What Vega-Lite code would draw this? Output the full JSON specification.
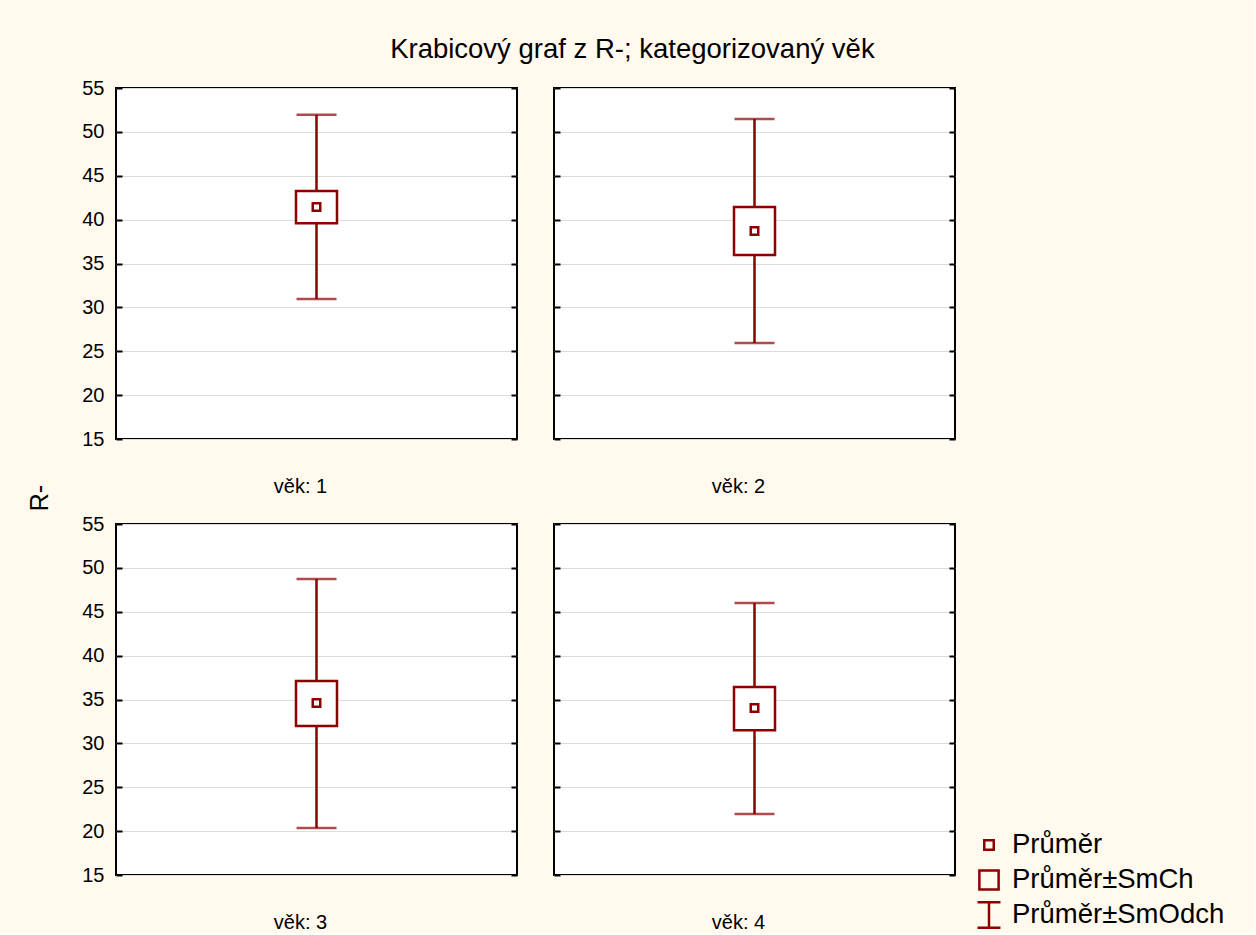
{
  "$schema": "https://vega.github.io/schema/vega-lite/v6.json",
  "background": "#FFF9EE",
  "padding": {"left": 27, "top": 35, "right": 30, "bottom": 0},
  "title": {"text": "Krabicový graf z R-; kategorizovaný věk", "fontSize": 27.5, "font": "Liberation Sans", "fontWeight": "normal", "color": "black", "anchor": "middle", "offset": 14, "dx": 6},
  "data": {"values": [
    {"vek": "věk: 1", "mean": 41.45, "se_lo": 39.6, "se_hi": 43.25, "sd_lo": 30.95, "sd_hi": 51.95},
    {"vek": "věk: 2", "mean": 38.7, "se_lo": 35.97, "se_hi": 41.44, "sd_lo": 25.95, "sd_hi": 51.47},
    {"vek": "věk: 3", "mean": 34.6, "se_lo": 31.98, "se_hi": 37.11, "sd_lo": 20.36, "sd_hi": 48.73},
    {"vek": "věk: 4", "mean": 34.03, "se_lo": 31.5, "se_hi": 36.42, "sd_lo": 21.95, "sd_hi": 46.0}
  ]},
  "hconcat": [
    {
      "title": {"text": "R-", "orient": "left", "fontSize": 25, "font": "Liberation Sans", "fontWeight": "normal", "color": "black", "anchor": "middle", "offset": 28, "dx": 7},
      "spacing": 16,
      "vconcat": [
        {
          "spacing": 33,
          "hconcat": [
            {
              "width": 401, "height": 351,
              "transform": [{"filter": "datum.vek === 'věk: 1'"}],
              "resolve": {"axis": {"y": "independent"}},
              "encoding": {"x": {"field": "vek", "type": "nominal", "axis": {"orient": "bottom", "ticks": false, "domain": false, "labelPadding": 37, "labelOffset": -16, "labelFontSize": 20, "labelFont": "Liberation Sans", "labelColor": "black", "labelAngle": 0, "title": null}}},
              "layer": [
                {"mark": {"type": "rule", "color": "#8B0000", "strokeWidth": 2.5},
                 "encoding": {
                   "y": {"field": "sd_lo", "type": "quantitative", "scale": {"domain": [15, 55], "nice": false, "zero": false}, "axis": {"orient": "left", "values": [15, 20, 25, 30, 35, 40, 45, 50, 55], "grid": true, "gridColor": "#DCDCDC", "gridWidth": 1, "domain": false, "tickSize": -6, "tickWidth": 2, "tickColor": "black", "labelFont": "Liberation Sans", "labelFontSize": 20, "labelColor": "black", "labelPadding": 18, "title": null}},
                   "y2": {"field": "sd_hi"}}},
                {"mark": {"type": "tick", "orient": "horizontal", "size": 40, "thickness": 2.5, "color": "#8B0000"},
                 "encoding": {"y": {"field": "sd_lo", "type": "quantitative", "scale": {"domain": [15, 55], "nice": false, "zero": false}, "axis": null}}},
                {"mark": {"type": "tick", "orient": "horizontal", "size": 40, "thickness": 2.5, "color": "#8B0000"},
                 "encoding": {"y": {"field": "sd_hi", "type": "quantitative", "scale": {"domain": [15, 55], "nice": false, "zero": false}, "axis": null}}},
                {"mark": {"type": "bar", "width": 41, "fill": "white", "stroke": "#8B0000", "strokeWidth": 2.5},
                 "encoding": {"y": {"field": "se_lo", "type": "quantitative", "scale": {"domain": [15, 55], "nice": false, "zero": false}, "axis": null}, "y2": {"field": "se_hi"}}},
                {"mark": {"type": "point", "shape": "square", "size": 56, "filled": true, "fill": "white", "stroke": "#8B0000", "strokeWidth": 2.5, "opacity": 1},
                 "encoding": {"y": {"field": "mean", "type": "quantitative", "scale": {"domain": [15, 55], "nice": false, "zero": false}, "axis": null}}},
                {"mark": {"type": "rule", "opacity": 0},
                 "encoding": {"y": {"field": "mean", "type": "quantitative", "scale": {"domain": [15, 55], "nice": false, "zero": false}, "axis": {"orient": "right", "values": [15, 20, 25, 30, 35, 40, 45, 50, 55], "grid": false, "domain": false, "labels": false, "tickSize": -6, "tickWidth": 2, "tickColor": "black", "title": null}}}}
              ]
            },
            {
              "width": 401, "height": 351,
              "transform": [{"filter": "datum.vek === 'věk: 2'"}],
              "resolve": {"axis": {"y": "independent"}},
              "encoding": {"x": {"field": "vek", "type": "nominal", "axis": {"orient": "bottom", "ticks": false, "domain": false, "labelPadding": 37, "labelOffset": -16, "labelFontSize": 20, "labelFont": "Liberation Sans", "labelColor": "black", "labelAngle": 0, "title": null}}},
              "layer": [
                {"mark": {"type": "rule", "color": "#8B0000", "strokeWidth": 2.5},
                 "encoding": {
                   "y": {"field": "sd_lo", "type": "quantitative", "scale": {"domain": [15, 55], "nice": false, "zero": false}, "axis": {"orient": "left", "values": [15, 20, 25, 30, 35, 40, 45, 50, 55], "grid": true, "gridColor": "#DCDCDC", "gridWidth": 1, "domain": false, "tickSize": -6, "tickWidth": 2, "tickColor": "black", "labels": false, "title": null}},
                   "y2": {"field": "sd_hi"}}},
                {"mark": {"type": "tick", "orient": "horizontal", "size": 40, "thickness": 2.5, "color": "#8B0000"},
                 "encoding": {"y": {"field": "sd_lo", "type": "quantitative", "scale": {"domain": [15, 55], "nice": false, "zero": false}, "axis": null}}},
                {"mark": {"type": "tick", "orient": "horizontal", "size": 40, "thickness": 2.5, "color": "#8B0000"},
                 "encoding": {"y": {"field": "sd_hi", "type": "quantitative", "scale": {"domain": [15, 55], "nice": false, "zero": false}, "axis": null}}},
                {"mark": {"type": "bar", "width": 41, "fill": "white", "stroke": "#8B0000", "strokeWidth": 2.5},
                 "encoding": {"y": {"field": "se_lo", "type": "quantitative", "scale": {"domain": [15, 55], "nice": false, "zero": false}, "axis": null}, "y2": {"field": "se_hi"}}},
                {"mark": {"type": "point", "shape": "square", "size": 56, "filled": true, "fill": "white", "stroke": "#8B0000", "strokeWidth": 2.5, "opacity": 1},
                 "encoding": {"y": {"field": "mean", "type": "quantitative", "scale": {"domain": [15, 55], "nice": false, "zero": false}, "axis": null}}},
                {"mark": {"type": "rule", "opacity": 0},
                 "encoding": {"y": {"field": "mean", "type": "quantitative", "scale": {"domain": [15, 55], "nice": false, "zero": false}, "axis": {"orient": "right", "values": [15, 20, 25, 30, 35, 40, 45, 50, 55], "grid": false, "domain": false, "labels": false, "tickSize": -6, "tickWidth": 2, "tickColor": "black", "title": null}}}}
              ]
            }
          ]
        },
        {
          "spacing": 33,
          "hconcat": [
            {
              "width": 401, "height": 351,
              "transform": [{"filter": "datum.vek === 'věk: 3'"}],
              "resolve": {"axis": {"y": "independent"}},
              "encoding": {"x": {"field": "vek", "type": "nominal", "axis": {"orient": "bottom", "ticks": false, "domain": false, "labelPadding": 37, "labelOffset": -16, "labelFontSize": 20, "labelFont": "Liberation Sans", "labelColor": "black", "labelAngle": 0, "title": null}}},
              "layer": [
                {"mark": {"type": "rule", "color": "#8B0000", "strokeWidth": 2.5},
                 "encoding": {
                   "y": {"field": "sd_lo", "type": "quantitative", "scale": {"domain": [15, 55], "nice": false, "zero": false}, "axis": {"orient": "left", "values": [15, 20, 25, 30, 35, 40, 45, 50, 55], "grid": true, "gridColor": "#DCDCDC", "gridWidth": 1, "domain": false, "tickSize": -6, "tickWidth": 2, "tickColor": "black", "labelFont": "Liberation Sans", "labelFontSize": 20, "labelColor": "black", "labelPadding": 18, "title": null}},
                   "y2": {"field": "sd_hi"}}},
                {"mark": {"type": "tick", "orient": "horizontal", "size": 40, "thickness": 2.5, "color": "#8B0000"},
                 "encoding": {"y": {"field": "sd_lo", "type": "quantitative", "scale": {"domain": [15, 55], "nice": false, "zero": false}, "axis": null}}},
                {"mark": {"type": "tick", "orient": "horizontal", "size": 40, "thickness": 2.5, "color": "#8B0000"},
                 "encoding": {"y": {"field": "sd_hi", "type": "quantitative", "scale": {"domain": [15, 55], "nice": false, "zero": false}, "axis": null}}},
                {"mark": {"type": "bar", "width": 41, "fill": "white", "stroke": "#8B0000", "strokeWidth": 2.5},
                 "encoding": {"y": {"field": "se_lo", "type": "quantitative", "scale": {"domain": [15, 55], "nice": false, "zero": false}, "axis": null}, "y2": {"field": "se_hi"}}},
                {"mark": {"type": "point", "shape": "square", "size": 56, "filled": true, "fill": "white", "stroke": "#8B0000", "strokeWidth": 2.5, "opacity": 1},
                 "encoding": {"y": {"field": "mean", "type": "quantitative", "scale": {"domain": [15, 55], "nice": false, "zero": false}, "axis": null}}},
                {"mark": {"type": "rule", "opacity": 0},
                 "encoding": {"y": {"field": "mean", "type": "quantitative", "scale": {"domain": [15, 55], "nice": false, "zero": false}, "axis": {"orient": "right", "values": [15, 20, 25, 30, 35, 40, 45, 50, 55], "grid": false, "domain": false, "labels": false, "tickSize": -6, "tickWidth": 2, "tickColor": "black", "title": null}}}}
              ]
            },
            {
              "width": 401, "height": 351,
              "transform": [{"filter": "datum.vek === 'věk: 4'"}],
              "resolve": {"axis": {"y": "independent"}},
              "encoding": {"x": {"field": "vek", "type": "nominal", "axis": {"orient": "bottom", "ticks": false, "domain": false, "labelPadding": 37, "labelOffset": -16, "labelFontSize": 20, "labelFont": "Liberation Sans", "labelColor": "black", "labelAngle": 0, "title": null}}},
              "layer": [
                {"mark": {"type": "rule", "color": "#8B0000", "strokeWidth": 2.5},
                 "encoding": {
                   "y": {"field": "sd_lo", "type": "quantitative", "scale": {"domain": [15, 55], "nice": false, "zero": false}, "axis": {"orient": "left", "values": [15, 20, 25, 30, 35, 40, 45, 50, 55], "grid": true, "gridColor": "#DCDCDC", "gridWidth": 1, "domain": false, "tickSize": -6, "tickWidth": 2, "tickColor": "black", "labels": false, "title": null}},
                   "y2": {"field": "sd_hi"}}},
                {"mark": {"type": "tick", "orient": "horizontal", "size": 40, "thickness": 2.5, "color": "#8B0000"},
                 "encoding": {"y": {"field": "sd_lo", "type": "quantitative", "scale": {"domain": [15, 55], "nice": false, "zero": false}, "axis": null}}},
                {"mark": {"type": "tick", "orient": "horizontal", "size": 40, "thickness": 2.5, "color": "#8B0000"},
                 "encoding": {"y": {"field": "sd_hi", "type": "quantitative", "scale": {"domain": [15, 55], "nice": false, "zero": false}, "axis": null}}},
                {"mark": {"type": "bar", "width": 41, "fill": "white", "stroke": "#8B0000", "strokeWidth": 2.5},
                 "encoding": {"y": {"field": "se_lo", "type": "quantitative", "scale": {"domain": [15, 55], "nice": false, "zero": false}, "axis": null}, "y2": {"field": "se_hi"}}},
                {"mark": {"type": "point", "shape": "square", "size": 56, "filled": true, "fill": "white", "stroke": "#8B0000", "strokeWidth": 2.5, "opacity": 1},
                 "encoding": {"y": {"field": "mean", "type": "quantitative", "scale": {"domain": [15, 55], "nice": false, "zero": false}, "axis": null}}},
                {"mark": {"type": "rule", "opacity": 0},
                 "encoding": {"y": {"field": "mean", "type": "quantitative", "scale": {"domain": [15, 55], "nice": false, "zero": false}, "axis": {"orient": "right", "values": [15, 20, 25, 30, 35, 40, 45, 50, 55], "grid": false, "domain": false, "labels": false, "tickSize": -6, "tickWidth": 2, "tickColor": "black", "title": null}}}},
                {"data": {"values": [{"item": "Průměr"}, {"item": "Průměr±SmCh"}, {"item": "Průměr±SmOdch"}]},
                 "mark": {"type": "point", "opacity": 0, "filled": false, "stroke": "#8B0000", "strokeWidth": 2.5},
                 "encoding": {
                   "x": {"datum": "věk: 4", "type": "nominal"},
                   "shape": {"field": "item", "type": "nominal", "scale": {"domain": ["Průměr", "Průměr±SmCh", "Průměr±SmOdch"], "range": ["square", "square", "M-0.9,-1H0.9M0,-1V1M-0.9,1H0.9"]}, "legend": {"title": null, "orient": "none", "legendX": 859, "legendY": 743, "padding": 0, "symbolStrokeColor": "#8B0000", "symbolStrokeWidth": 2.5, "symbolFillColor": "transparent", "symbolOpacity": 1, "labelFont": "Liberation Sans", "labelFontSize": 27.5, "labelColor": "black", "labelOffset": 9, "rowPadding": 7, "clipHeight": 28, "labelLimit": 400}},
                   "size": {"field": "item", "type": "nominal", "scale": {"domain": ["Průměr", "Průměr±SmCh", "Průměr±SmOdch"], "range": [90, 650, 784]}, "legend": {"title": null, "orient": "none", "legendX": 859, "legendY": 743, "padding": 0, "symbolStrokeColor": "#8B0000", "symbolStrokeWidth": 2.5, "symbolFillColor": "transparent", "symbolOpacity": 1, "labelFont": "Liberation Sans", "labelFontSize": 27.5, "labelColor": "black", "labelOffset": 9, "rowPadding": 7, "clipHeight": 28, "labelLimit": 400}}
                 }}
              ]
            }
          ]
        }
      ]
    }
  ],
  "config": {
    "view": {"stroke": "black", "strokeWidth": 2, "fill": "white"},
    "axis": {"labelFont": "Liberation Sans"}
  }
}
